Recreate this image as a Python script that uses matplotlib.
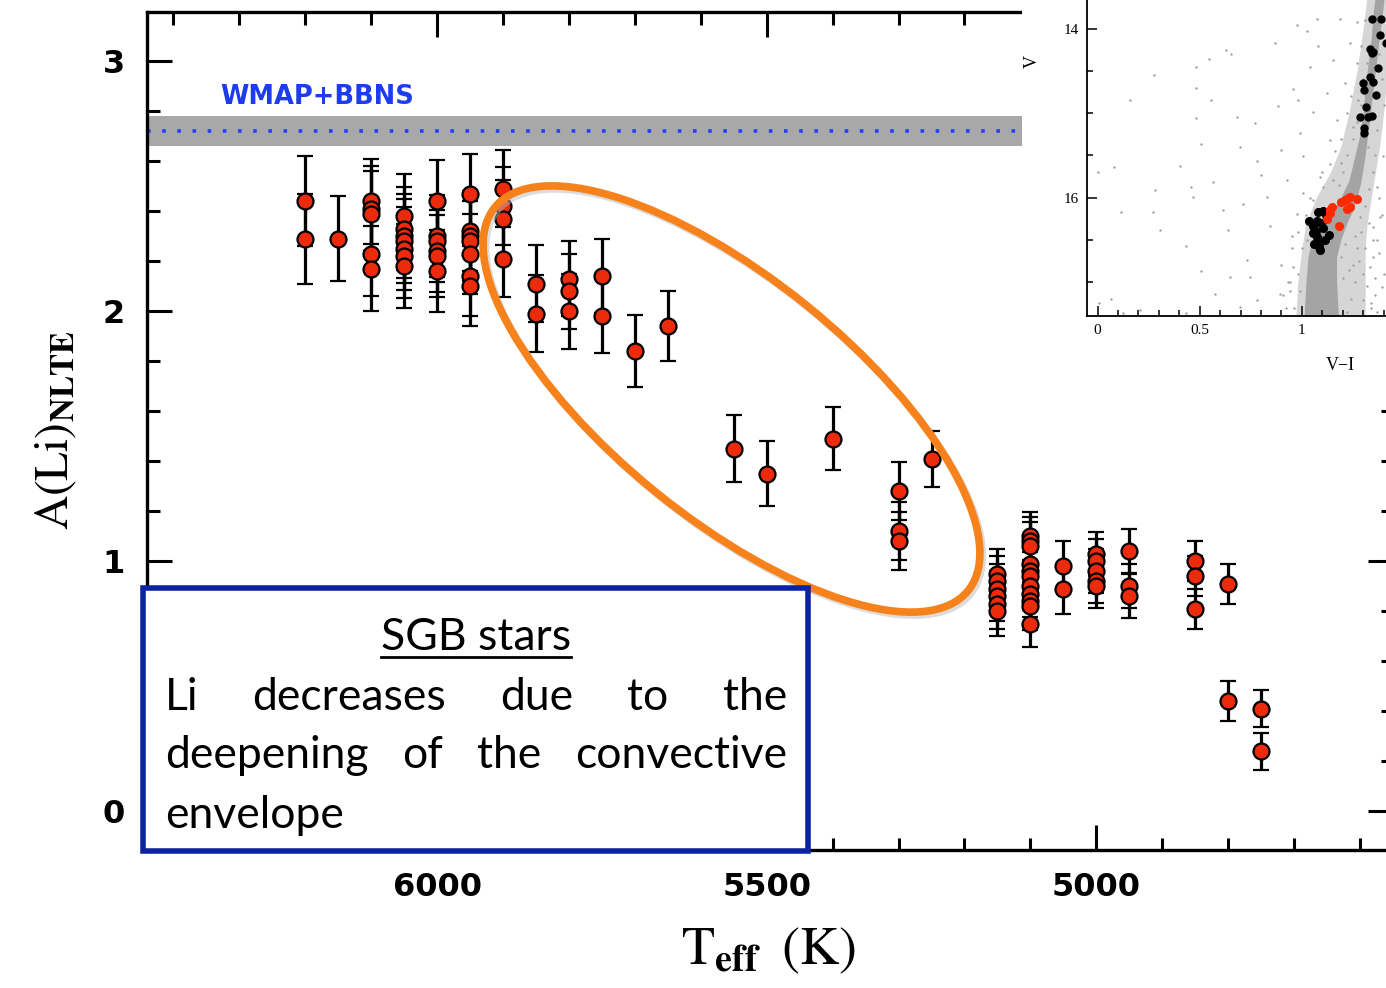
import matplotlib
matplotlib.use('Agg')
import matplotlib.pyplot as plt
from matplotlib.patches import Ellipse, Rectangle
from matplotlib.lines import Line2D
from matplotlib.ticker import MultipleLocator, FuncFormatter
from matplotlib.transforms import IdentityTransform

W, H, DPI = 1386, 988, 100

# --- main panel: Li abundance vs Teff (one entry per star) ---
teff = [6200, 6200,
        6150,
        6100, 6100, 6100, 6100, 6100,
        6050, 6050, 6050, 6050, 6050, 6050, 6050,
        6000, 6000, 6000, 6000, 6000, 6000,
        5950, 5950, 5950, 5950, 5950, 5950, 5950,
        5900, 5900, 5900, 5900,
        5850, 5850,
        5800, 5800, 5800,
        5750, 5750,
        5700, 5650, 5550, 5500, 5400,
        5300, 5300, 5300,
        5250,
        5150, 5150, 5150, 5150, 5150, 5150,
        5100, 5100, 5100, 5100, 5100, 5100, 5100, 5100, 5100, 5100, 5100,
        5050, 5050,
        5000, 5000, 5000, 5000, 5000,
        4950, 4950, 4950,
        4850, 4850, 4850,
        4800, 4800,
        4750, 4750]
a_li = [2.44, 2.29,
        2.29,
        2.44, 2.41, 2.39, 2.23, 2.17,
        2.38, 2.33, 2.30, 2.28, 2.25, 2.22, 2.18,
        2.44, 2.30, 2.28, 2.24, 2.22, 2.16,
        2.47, 2.32, 2.30, 2.28, 2.23, 2.14, 2.10,
        2.49, 2.42, 2.37, 2.21,
        2.11, 1.99,
        2.13, 2.08, 2.00,
        2.14, 1.98,
        1.84, 1.94, 1.45, 1.35, 1.49,
        1.28, 1.12, 1.08,
        1.41,
        0.95, 0.92, 0.89, 0.86, 0.83, 0.80,
        1.10, 1.08, 1.06, 0.99, 0.96, 0.94, 0.90, 0.87, 0.84, 0.82, 0.75,
        0.98, 0.89,
        1.03, 1.00, 0.96, 0.92, 0.90,
        1.04, 0.90, 0.86,
        1.00, 0.94, 0.81,
        0.91, 0.44,
        0.41, 0.24]
a_err = [0.18, 0.18,
         0.17,
         0.17, 0.17, 0.17, 0.17, 0.17,
         0.167, 0.167, 0.167, 0.167, 0.167, 0.167, 0.167,
         0.165, 0.165, 0.165, 0.165, 0.165, 0.165,
         0.16, 0.16, 0.16, 0.16, 0.16, 0.16, 0.16,
         0.155, 0.155, 0.155, 0.155,
         0.155, 0.155,
         0.15, 0.15, 0.15,
         0.147, 0.147,
         0.144, 0.14, 0.135, 0.13, 0.125,
         0.115, 0.115, 0.115,
         0.112,
         0.10, 0.10, 0.10, 0.10, 0.10, 0.10,
         0.095, 0.095, 0.095, 0.095, 0.095, 0.095, 0.095, 0.095, 0.095, 0.095, 0.095,
         0.10, 0.10,
         0.088, 0.088, 0.088, 0.088, 0.088,
         0.088, 0.088, 0.088,
         0.08, 0.08, 0.08,
         0.08, 0.08,
         0.074, 0.074]

wmap_li, wmap_err = 2.72, 0.06

# --- inset CMD ---
rgb_vi = [1.342, 1.386, 1.382, 1.41, 1.333, 1.342, 1.349, 1.374, 1.300, 1.333,
          1.347, 1.304, 1.363, 1.314, 1.284, 1.325, 1.342, 1.304, 1.304]
rgb_v = [13.88, 13.88, 14.07, 14.17, 14.24, 14.29, 14.28, 14.47, 14.64, 14.57,
         14.63, 14.72, 14.79, 14.93, 15.04, 15.04, 15.03, 15.18, 15.23]
to_vi = [1.036, 1.080, 1.104, 1.134, 1.072, 1.055, 1.069, 1.104, 1.134, 1.072,
         1.088, 1.085, 1.113, 1.055, 1.095, 1.060, 1.120, 1.090]
to_v = [16.27, 16.17, 16.16, 16.18, 16.27, 16.34, 16.39, 16.36, 16.44, 16.46,
        16.52, 16.58, 16.50, 16.42, 16.30, 16.55, 16.20, 16.62]
sgb_vi = [1.211, 1.235, 1.268, 1.194, 1.219, 1.235, 1.146, 1.137, 1.121, 1.183, 1.140, 1.227]
sgb_v = [16.03, 15.99, 16.02, 16.05, 16.13, 16.11, 16.11, 16.15, 16.25, 16.34, 16.18, 16.00]

core_v = [17.45, 17.0, 16.7, 16.5, 16.3, 16.15, 16.0, 15.8, 15.5, 15.3, 15.0,
          14.7, 14.4, 14.1, 13.8, 13.6]
core_left = [1.01, 1.02, 1.03, 1.05, 1.09, 1.15, 1.19, 1.23, 1.26, 1.28, 1.30,
             1.31, 1.325, 1.34, 1.35, 1.36]
core_right = [1.18, 1.17, 1.17, 1.19, 1.22, 1.25, 1.27, 1.29, 1.31, 1.32, 1.335,
              1.35, 1.365, 1.38, 1.395, 1.405]
halo_v = [17.45, 17.0, 16.6, 16.3, 16.0, 15.7, 15.4, 15.0, 14.5, 14.0, 13.6]
halo_left = [0.97, 0.98, 1.00, 1.02, 1.07, 1.14, 1.19, 1.23, 1.27, 1.30, 1.32]
halo_right = [1.31, 1.31, 1.31, 1.32, 1.34, 1.36, 1.38, 1.40, 1.42, 1.44, 1.46]

field_vi = [0.00, 0.078, 0.160, 0.275, 0.28, 0.27, 0.304, 0.116, 0.067, 0.005,
            0.402, 0.431, 0.459, 0.484, 0.484, 0.484, 0.508, 0.467, 0.508, 0.544,
            0.554, 0.565, 0.614, 0.639, 0.574, 0.631, 0.655, 0.680, 0.696, 0.712,
            0.729, 0.745, 0.770, 0.778, 0.798, 0.827, 0.843, 0.868, 0.884, 0.900,
            0.925, 0.941, 0.958, 0.974, 0.982, 0.990, 1.007, 1.023, 1.039, 1.072,
            1.056, 1.080, 1.088, 1.121, 1.137, 1.154, 1.170, 1.186, 1.194, 1.211,
            1.235, 1.252, 1.268, 1.276, 1.382, 1.350, 1.333, 1.390, 1.301, 1.366,
            1.399, 1.325, 1.284, 0.892, 0.958, 1.023, 0.974, 1.007, 1.056, 1.105,
            1.154, 0.778, 0.696, 0.647, 0.435, 0.206, 0.124,
            1.20, 1.18, 1.22, 1.25, 1.27, 1.29, 1.30, 1.32, 1.33, 1.35,
            1.36, 1.38, 1.39, 1.40, 1.37, 1.36, 1.35, 1.33, 1.31, 1.38,
            1.29, 1.27, 1.25, 1.26, 1.24, 1.30, 1.34, 1.22, 1.19, 1.20,
            0.98, 0.99, 0.96, 1.00, 0.98, 1.02, 1.04, 1.10, 1.14, 1.16,
            1.19, 1.22, 1.24, 1.27, 1.29, 1.31, 0.93, 0.95, 1.21, 1.23,
            1.26, 1.28, 1.31, 1.33, 1.35, 1.37, 1.39, 1.40, 1.36, 1.32,
            0.92, 0.94, 0.90, 0.95, 0.91, 1.34, 1.36, 1.38, 1.35, 1.37]
field_v = [15.69, 15.64, 14.84, 14.55, 15.91, 16.17, 16.38, 16.17, 17.20, 17.25,
           15.62, 16.57, 15.87, 14.45, 14.70, 15.06, 15.36, 15.99, 16.87, 14.36,
           14.84, 15.81, 16.14, 16.38, 17.14, 14.25, 14.30, 15.05, 15.40, 16.07,
           16.74, 16.94, 15.11, 15.57, 15.73, 15.99, 16.34, 14.17, 14.92, 15.44,
           15.79, 17.10, 14.71, 13.96, 14.84, 15.24, 15.51, 14.03, 14.45, 13.88,
           14.99, 14.21, 15.75, 14.76, 15.32, 14.37, 15.08, 13.89, 15.59, 14.64,
           14.17, 15.16, 13.92, 14.84, 16.23, 16.50, 16.82, 17.06, 17.21, 15.87,
           15.51, 15.40, 16.23, 17.14, 16.82, 16.50, 16.19, 15.95, 16.03, 15.87,
           15.79, 17.21, 17.29, 16.94, 17.37, 17.33, 17.37,
           15.7, 15.85, 15.5, 15.3, 15.1, 14.9, 14.6, 14.4, 14.2, 14.0,
           13.8, 14.3, 14.6, 14.9, 15.2, 15.5, 15.7, 15.9, 16.1, 16.0,
           16.4, 16.6, 16.8, 17.0, 17.2, 16.9, 17.3, 17.35, 16.7, 16.95,
           16.9, 17.1, 17.3, 16.6, 16.4, 16.2, 16.0, 15.7, 15.6, 15.45,
           15.3, 15.0, 14.8, 14.4, 14.2, 13.9, 17.0, 16.6, 16.55, 16.85,
           16.45, 16.75, 16.6, 16.3, 16.7, 16.5, 16.2, 16.9, 17.15, 17.05,
           17.3, 17.0, 16.8, 16.45, 17.15, 17.25, 16.95, 16.65, 16.35, 17.35]

box_title = "SGB stars"
box_lines = [["Li", "decreases", "due", "to", "the"],
             ["deepening", "of", "the", "convective"],
             ["envelope"]]

plt.rcParams['font.family'] = ['DejaVu Sans']
plt.rcParams['mathtext.fontset'] = 'stix'


def rect(x0, y0, w, h):
    # pixel box (top-left origin) -> figure fraction
    return [x0 / W, 1 - (y0 + h) / H, w / W, h / H]


fig = plt.figure(figsize=(W / DPI, H / DPI), dpi=DPI)

ax = fig.add_axes(rect(147, 12, 1393 - 147, 850 - 12))
ax.set_xlim(6440, 4550)
ax.set_ylim(-0.156, 3.196)

ax.axhspan(wmap_li - wmap_err, wmap_li + wmap_err, color='#a8a8a8', lw=0, zorder=1)
ax.axhline(wmap_li, color='#2040ff', ls=(0, (1, 3.2)), lw=2.6, zorder=2)
ax.text(6329, 2.856, 'WMAP+BBNS', color='#1d3cf0', fontsize=18.5, fontweight='heavy',
        va='center', ha='left')

ax.errorbar(teff, a_li, yerr=a_err, fmt='o', ms=11.5, mfc='#ec2a0c', mec='black', mew=1.6,
            ecolor='black', elinewidth=2.3, capsize=6, capthick=2.3, zorder=3)

ax.xaxis.set_major_locator(MultipleLocator(500))
ax.xaxis.set_minor_locator(MultipleLocator(100))
ax.yaxis.set_major_locator(MultipleLocator(1))
ax.yaxis.set_minor_locator(MultipleLocator(0.2))
ax.tick_params(which='both', direction='in', top=True, right=True, width=2.2)
ax.tick_params(which='major', length=18, labelsize=23, pad=16)
ax.tick_params(which='minor', length=9)
for lab in ax.get_xticklabels() + ax.get_yticklabels():
    lab.set_fontweight('bold')
for sp in ax.spines.values():
    sp.set_linewidth(2.4)

fig.text(55 / W, 1 - 430 / H, r'$\mathrm{A(Li)}_{\mathbf{NLTE}}$', rotation=90,
         ha='center', va='center', fontsize=34)
fig.text(768 / W, 1 - 950 / H, r'$\mathrm{T}_{\mathbf{eff}}\;\;\mathrm{(K)}$',
         ha='center', va='center', fontsize=39)

# orange ellipse around the SGB stars, with a faint drop shadow
fig.add_artist(Ellipse((7.34, 5.86), 6.09, 2.40, angle=-39, fill=False,
                       edgecolor='#bbbbbb', lw=5.5, alpha=0.5,
                       transform=fig.dpi_scale_trans, zorder=4))
fig.add_artist(Ellipse((7.315, 5.89), 6.09, 2.40, angle=-39, fill=False,
                       edgecolor='#f7821b', lw=5.5, transform=fig.dpi_scale_trans, zorder=4))

# blue text box
fig.add_artist(Rectangle((1.43, 1.37), 6.65, 2.63, facecolor='white', edgecolor='#0b22a3',
                         lw=4, transform=fig.dpi_scale_trans, zorder=5))

# inset CMD
bg = fig.add_axes(rect(1022, 0, 364, 392), zorder=3)
bg.set_facecolor('white')
bg.set_xticks([])
bg.set_yticks([])
for sp in bg.spines.values():
    sp.set_visible(False)

ins = fig.add_axes(rect(1087, 0, 299, 316), zorder=4)
ins.set_facecolor('none')
ins.set_xlim(-0.052, 1.412)
ins.set_ylim(17.40, 13.66)
ins.fill_betweenx(halo_v, halo_left, halo_right, color='#d6d6d6', lw=0)
ins.fill_betweenx(core_v, core_left, core_right, color='#a4a4a4', lw=0)
ins.scatter(field_vi, field_v, s=3, color='#a0a0a0', lw=0)
ins.plot(rgb_vi, rgb_v, 'o', ms=5, color='black', clip_on=False)
ins.plot(to_vi, to_v, 'o', ms=5.5, color='black')
ins.plot(sgb_vi, sgb_v, 'o', ms=5.5, color='#ff2a00')
ins.xaxis.set_major_locator(MultipleLocator(0.5))
ins.xaxis.set_minor_locator(MultipleLocator(0.1))
ins.yaxis.set_major_locator(MultipleLocator(2))
ins.yaxis.set_minor_locator(MultipleLocator(0.5))
ins.xaxis.set_major_formatter(FuncFormatter(lambda v, p: '%g' % v))
ins.tick_params(which='both', direction='in', width=1.1, labelsize=11,
                labelfontfamily='Liberation Serif')
ins.tick_params(which='major', length=7, pad=6)
ins.tick_params(which='minor', length=4)
ins.spines['top'].set_visible(False)
ins.spines['right'].set_visible(False)
for sp in ('left', 'bottom'):
    ins.spines[sp].set_linewidth(1.3)
fig.text(1032 / W, 1 - 62 / H, 'V', rotation=90, ha='center', va='center',
         fontsize=13, family='Liberation Serif', zorder=6)
fig.text(1340 / W, 1 - 366 / H, 'V\u2212I', ha='center', va='center',
         fontsize=13, family=['Liberation Serif', 'DejaVu Serif'], zorder=6)

# box text, justified word by word
fig.canvas.draw()
renderer = fig.canvas.get_renderer()
tf = IdentityTransform()
kw = dict(fontsize=32, family='Lato', transform=tf, zorder=6, va='baseline')

t = fig.text(476, H - 650, box_title, ha='center', **kw)
bb = t.get_window_extent(renderer)
fig.add_artist(Line2D([bb.x0, bb.x1], [H - 657, H - 657], color='black', lw=2,
                      transform=tf, zorder=6))

left, right = 165, 787
baselines = [710, 768, 828]
for words, base in zip(box_lines, baselines):
    arts = [fig.text(0, H - base, w, ha='left', **kw) for w in words]
    widths = [a.get_window_extent(renderer).width for a in arts]
    if len(words) > 1 and base != baselines[-1]:
        gap = (right - left - sum(widths)) / (len(words) - 1)
    else:
        gap = 10
    x = left
    for a, w in zip(arts, widths):
        a.set_x(x)
        x += w + gap

fig.savefig('out.png', dpi=DPI)
